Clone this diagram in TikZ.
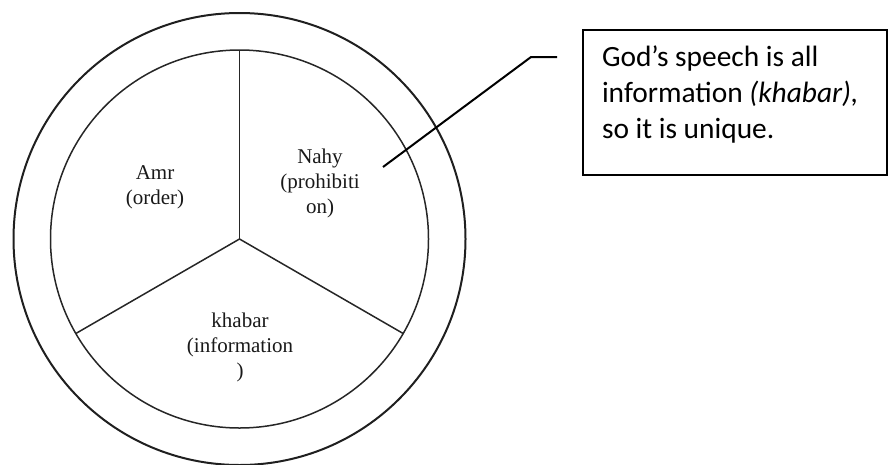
\documentclass[tikz,border=0pt]{standalone}
\usepackage{fontspec}
\newfontfamily\notefont{Carlito}
\newfontfamily\sectorfont{Liberation Serif}
\tikzset{
  rim/.style={draw=black!88, line width=2pt},
  ring/.style={draw=black!85, line width=1.5pt},
  sector/.style={align=center, text=black!90, font=\sectorfont\fontsize{21}{25}\selectfont},
  notebox/.style={draw=black, line width=2.4pt, minimum width=304pt, minimum height=145pt},
  notetext/.style={align=left, inner sep=0pt, font=\notefont\fontsize{29.4}{35.8}\selectfont},
  leader/.style={draw=black, line width=2pt}
}
\begin{document}
\begin{tikzpicture}[x=1pt, y=-1pt]
    \useasboundingbox (0,0) rectangle (888,464);
    \coordinate (hub) at (239.5,239);

    % two circles and the three sectors
    \draw[rim] (hub) circle[radius=226];
    \draw[ring] (hub) circle[radius=189];
    \foreach \a/\n in {270/top, 150/left, 30/right} {
      \path (hub) ++(\a:189) coordinate (rim-\n);
      \draw[ring] (hub) -- (rim-\n);
    }

    \node[sector] (amr)    at (155,187.5) {Amr\\(order)};
    \node[sector] (nahy)   at (320,183)   {Nahy\\(prohibiti\\on)};
    \node[sector] (khabar) at (240,347)   {khabar\\(information\\)};

    % callout on the right
    \node[notebox] (box) at (735,102.5) {};
    \node[notetext, anchor=north west] (note) at ([shift={(20,17)}]box.north west)
      {God’s speech is all\\information \textit{(khabar),}\\so it is unique.};

    \coordinate (tail)  at (383,167);
    \coordinate (elbow) at (531,57);
    \coordinate (tip)   at (557,57);
    \draw[leader] (tail) -- (elbow) -- (tip);
\end{tikzpicture}
\end{document}
